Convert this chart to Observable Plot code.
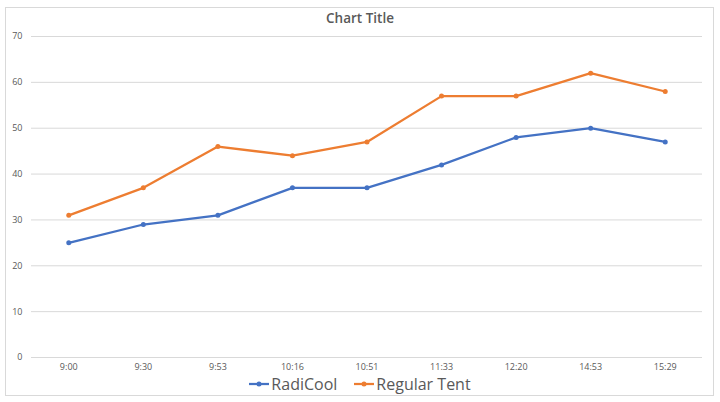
<!DOCTYPE html>
<html>
<head>
<meta charset="utf-8">
<script src="https://cdn.jsdelivr.net/npm/d3@7"></script>
<script src="https://cdn.jsdelivr.net/npm/@observablehq/plot@0.6"></script>
<style>
  html, body { margin: 0; padding: 0; background: #fff; }
  #wrap { position: relative; width: 720px; height: 402px; font-family: "Open Sans", "Liberation Sans", sans-serif; }
  #border { position: absolute; left: 5px; top: 7px; width: 709px; height: 389px; border: 1px solid #d9d9d9; box-sizing: border-box; }
  #title { position: absolute; left: 0; width: 720px; top: 9px; text-align: center; font-size: 13.5px; color: #595959; font-weight: 600; }
  #legend { position: absolute; left: 0; width: 720px; top: 374px; display: flex; justify-content: center; gap: 17px; font-size: 16px; color: #595959; line-height: 20px; }
  .item { display: flex; align-items: center; gap: 2px; }
  #chart { position: absolute; left: 0; top: 0; }
</style>
</head>
<body>
<div id="wrap">
  <div id="border"></div>
  <div id="chart"></div>
  <div id="title">Chart Title</div>
  <div id="legend"></div>
</div>
<script>
const times = ["9:00", "9:30", "9:53", "10:16", "10:51", "11:33", "12:20", "14:53", "15:29"];
const radicool = [25, 29, 31, 37, 37, 42, 48, 50, 47];
const regularTent = [31, 37, 46, 44, 47, 57, 57, 62, 58];
const seriesNames = ["RadiCool", "Regular Tent"];
const seriesColors = ["#4472C4", "#ED7D31"];
const yTicks = [0, 10, 20, 30, 40, 50, 60, 70];

const data = [];
times.forEach((t, i) => {
  data.push({time: t, value: radicool[i], series: seriesNames[0]});
  data.push({time: t, value: regularTent[i], series: seriesNames[1]});
});

const chart = Plot.plot({
  width: 720,
  height: 402,
  marginTop: 36,
  marginBottom: 45,
  marginLeft: 31,
  marginRight: 18,
  style: {fontFamily: "'Open Sans', 'Liberation Sans', sans-serif", background: "transparent"},
  x: {type: "point", domain: times, padding: 0.5, round: false, label: null},
  y: {domain: [0, 70], label: null},
  color: {domain: seriesNames, range: seriesColors},
  marks: [
    Plot.gridY(yTicks, {stroke: "#d9d9d9", strokeOpacity: 1, strokeWidth: 1}),
    Plot.axisY(yTicks, {tickSize: 0, tickPadding: 9, fontSize: 9, fill: "#595959", label: null}),
    Plot.axisX({tickSize: 0, tickPadding: 6, fontSize: 9, fill: "#595959", label: null}),
    Plot.lineY(data, {x: "time", y: "value", stroke: "series", strokeWidth: 2.25}),
    Plot.dot(data, {x: "time", y: "value", fill: "series", r: 2.5, stroke: null})
  ]
});
document.getElementById("chart").appendChild(chart);

const legend = document.getElementById("legend");
seriesNames.forEach((name, i) => {
  const item = document.createElement("div");
  item.className = "item";
  item.innerHTML = `<svg width="20" height="8"><line x1="0" x2="20" y1="4" y2="4" stroke="${seriesColors[i]}" stroke-width="2.25"/><circle cx="10" cy="4" r="2.5" fill="${seriesColors[i]}"/></svg><span>${name}</span>`;
  legend.appendChild(item);
});
</script>
</body>
</html>
